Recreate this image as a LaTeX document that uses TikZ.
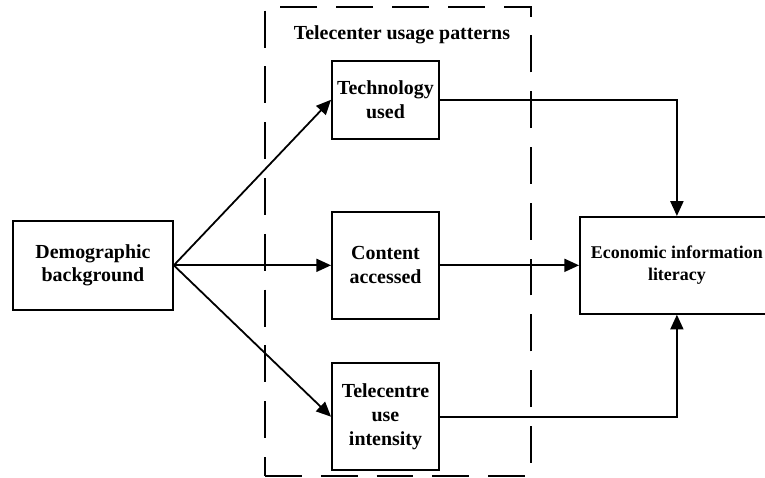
\documentclass[tikz,border=0pt]{standalone}
\usepackage{fontspec}
\setmainfont{Liberation Serif}
\usetikzlibrary{positioning,arrows.meta,calc}
\tikzset{
  >={Triangle[length=2.6mm,width=2.3mm]},
  varBox/.style={draw,line width=0.9pt,font=\bfseries,align=center,inner sep=2pt},
  groupBox/.style={draw,line width=1pt,dash pattern=on 18.5pt off 9.5pt,minimum width=46.9mm,minimum height=82.7mm},
  link/.style={->,line width=0.9pt},
}

\begin{document}
\begin{tikzpicture}

\useasboundingbox (0,0) rectangle (134.94mm,-84.31mm);

% Column anchors
\coordinate (Cleft) at (16.4mm,-46.8mm);   % demographic input
\coordinate (Cmid) at (68.0mm,-46.8mm);    % usage patterns
\coordinate (Cright) at (119.4mm,-46.8mm); % outcome

% ===== Telecenter usage patterns (dashed group) =====
\node[groupBox] (usageGroup) at (70.2mm,-42.6mm) {};
\node[font=\bfseries] (usageTitle) at ($(usageGroup.north)+(0.7mm,-5.1mm)$) {Telecenter usage patterns};

% ===== Demographic background =====
\node[varBox, minimum width=28.2mm, minimum height=15.7mm] (demoBg) at (Cleft) {Demographic\\background};

% ===== Usage pattern boxes =====
\node[varBox, minimum width=18.9mm, minimum height=13.8mm] (techUsed) at ($(Cmid)+(0,29.2mm)$) {Technology\\used};
\node[varBox, minimum width=18.9mm, minimum height=18.9mm] (contentAcc) at (Cmid) {Content\\accessed};
\node[varBox, minimum width=18.9mm, minimum height=18.9mm] (useIntensity) at ($(Cmid)+(0,-26.7mm)$) {Telecentre\\use\\intensity};

% ===== Economic information literacy =====
\node[varBox, minimum width=34.2mm, minimum height=17.1mm, font=\bfseries\fontsize{9pt}{11pt}\selectfont] (econLit) at (Cright) {Economic information\\literacy};

% ===== Connections =====
\foreach \b in {techUsed,contentAcc,useIntensity} {\draw[link] (demoBg.east) -- (\b.west); }
\draw[link] (techUsed.east) -| (econLit.north);
\draw[link] (contentAcc.east) -- (econLit.west);
\draw[link] (useIntensity.east) -| (econLit.south);

\end{tikzpicture}
\end{document}
